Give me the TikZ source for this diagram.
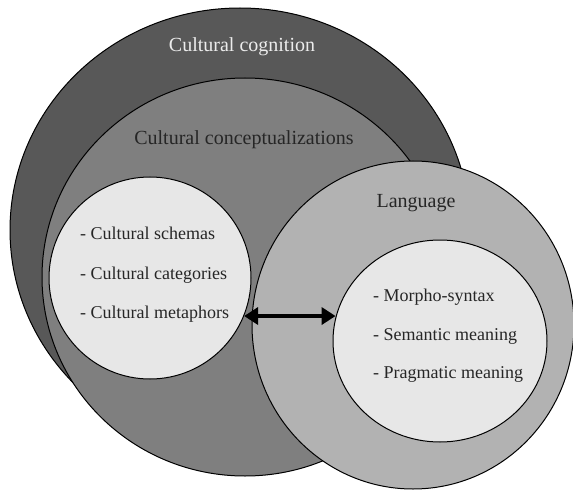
\documentclass[tikz,border=0pt]{standalone}
\usepackage{fontspec}
\setmainfont{Liberation Serif}
\usetikzlibrary{shapes.geometric,arrows.meta}

\definecolor{cogfill}{HTML}{585858}
\definecolor{concfill}{HTML}{7F7F7F}
\definecolor{langfill}{HTML}{B2B2B2}
\definecolor{innerfill}{HTML}{E7E7E7}
\definecolor{lighttext}{HTML}{ECECEC}
\definecolor{darktext}{HTML}{262626}

\tikzset{
  item/.style={anchor=base west,inner sep=0pt,text=darktext,font=\fontsize{18}{22}\selectfont},
  dblarrow/.style={{Triangle[length=14pt,width=17pt]}-{Triangle[length=14pt,width=17pt]},line width=4.5pt}
}

\begin{document}
\begin{tikzpicture}[x=1pt,y=-1pt]
      \useasboundingbox (0,0) rectangle (573,492);

      \begin{scope}[every node/.style={ellipse,draw,line width=1pt,inner sep=0pt}]
        \node[fill=cogfill,minimum width=460pt,minimum height=444pt] (cog) at (240,230) {};
        \node[fill=concfill,minimum width=406pt,minimum height=398pt] (conc) at (245,277) {};
        \node[fill=innerfill,minimum width=202pt,minimum height=202pt] (cult) at (150,278) {};
        \node[fill=langfill,minimum width=322pt,minimum height=328pt] (lang) at (413,325) {};
        \node[fill=innerfill,minimum width=214pt,minimum height=202pt] (ling) at (440,341) {};
      \end{scope}

      \begin{scope}[every node/.style={text=darktext,font=\fontsize{20}{24}\selectfont}]
        \node[text=lighttext] (cogtxt) at (242,47) {Cultural cognition};
        \node (conctxt) at (244,140) {Cultural conceptualizations};
        \node (langtxt) at (416,203) {Language};
      \end{scope}

      \node[item] (schemas)    at (80,239) {- Cultural schemas};
      \node[item] (categories) at (80,279) {- Cultural categories};
      \node[item] (metaphors)  at (80,318) {- Cultural metaphors};

      \node[item] (morpho)    at (373,301) {- Morpho-syntax};
      \node[item] (semantic)  at (373,340) {- Semantic meaning};
      \node[item] (pragmatic) at (373,378) {- Pragmatic meaning};

      \draw[dblarrow] (cult.-22.7) -- (cult.-22.7 -| ling.167);

    \end{tikzpicture}
\end{document}
